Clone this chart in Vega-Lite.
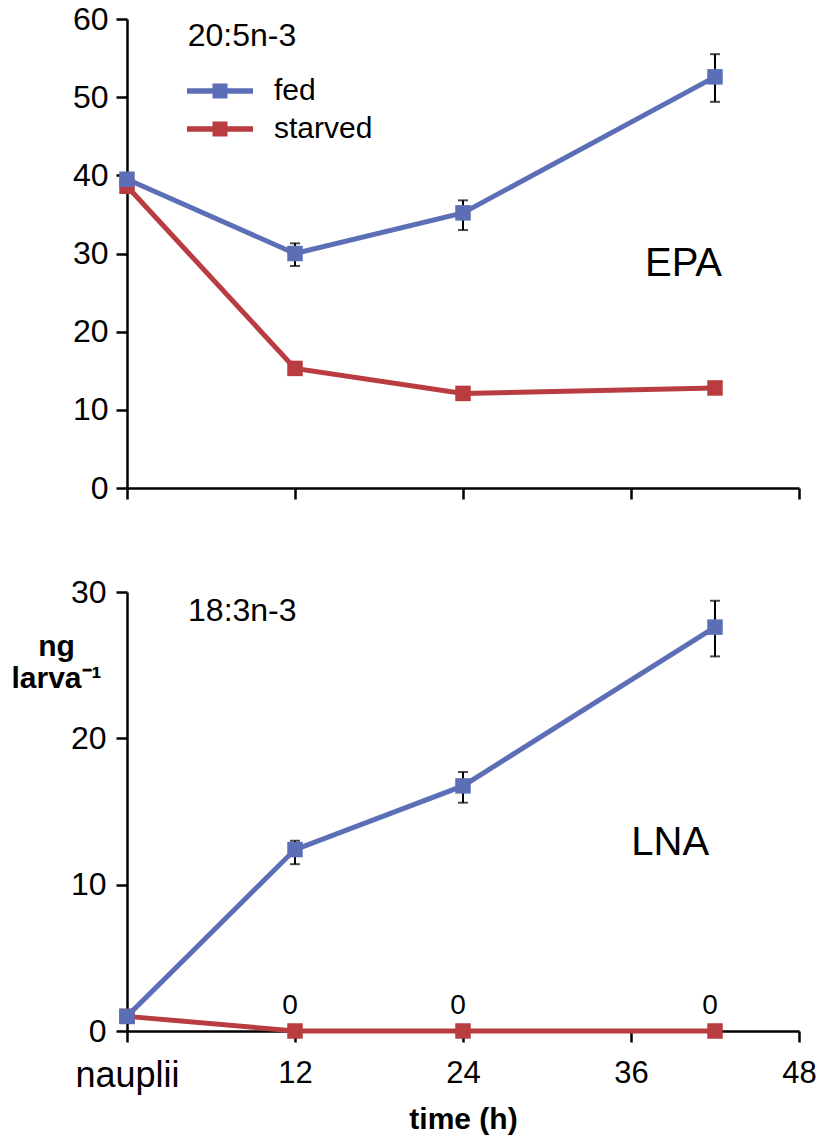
{
  "$schema": "https://vega.github.io/schema/vega-lite/v6.json",
  "background": "white",
  "padding": {"left": 10, "top": 3, "right": 5, "bottom": 5},
  "config": {
    "font": "Liberation Sans",
    "view": {"stroke": null},
    "axis": {
      "domainColor": "black", "domainWidth": 2.5, "tickColor": "black", "tickWidth": 2.5, "tickSize": 11,
      "labelFontSize": 31, "labelColor": "black", "labelFont": "Liberation Sans", "grid": false,
      "titleColor": "black", "labelFlush": false, "labelOverlap": false, "labelBound": false
    },
    "legend": {
      "orient": "none", "legendX": 78, "legendY": 57, "title": null, "padding": 0,
      "symbolType": "M-2.2,-0.18L2.2,-0.18L2.2,0.18L-2.2,0.18Z M-0.5,-0.5L0.5,-0.5L0.5,0.5L-0.5,0.5Z",
      "symbolSize": 900, "symbolStrokeWidth": 0, "symbolOpacity": 1,
      "labelFontSize": 30, "labelFont": "Liberation Sans", "labelColor": "black", "labelOffset": 39, "rowPadding": 8
    }
  },
  "datasets": {
    "epa": [
      {"group": "starved", "t": 0, "v": 38.6},
      {"group": "starved", "t": 12, "v": 15.3},
      {"group": "starved", "t": 24, "v": 12.1},
      {"group": "starved", "t": 42, "v": 12.8},
      {"group": "fed", "t": 0, "v": 39.5},
      {"group": "fed", "t": 12, "v": 30.0},
      {"group": "fed", "t": 24, "v": 35.2},
      {"group": "fed", "t": 42, "v": 52.6}
    ],
    "epa_err": [
      {"group": "fed", "t": 12, "lo": 28.4, "hi": 31.3},
      {"group": "fed", "t": 24, "lo": 33.0, "hi": 36.8},
      {"group": "fed", "t": 42, "lo": 49.4, "hi": 55.5}
    ],
    "lna": [
      {"group": "starved", "t": 0, "v": 1.0},
      {"group": "starved", "t": 12, "v": 0},
      {"group": "starved", "t": 24, "v": 0},
      {"group": "starved", "t": 42, "v": 0},
      {"group": "fed", "t": 0, "v": 1.0},
      {"group": "fed", "t": 12, "v": 12.4},
      {"group": "fed", "t": 24, "v": 16.75},
      {"group": "fed", "t": 42, "v": 27.6}
    ],
    "lna_err": [
      {"group": "fed", "t": 12, "lo": 11.4, "hi": 13.0},
      {"group": "fed", "t": 24, "lo": 15.6, "hi": 17.7},
      {"group": "fed", "t": 42, "lo": 25.6, "hi": 29.4}
    ],
    "zeros": [
      {"t": 12, "v": 0, "label": "0"},
      {"t": 24, "v": 0, "label": "0"},
      {"t": 42, "v": 0, "label": "0"}
    ],
    "notes_top": [
      {"label": "20:5n-3", "t": 4.34, "v": 56.5},
      {"label": "EPA", "t": 39.75, "v": 27.1}
    ],
    "notes_bottom": [
      {"label": "18:3n-3", "t": 4.36, "v": 28.0},
      {"label": "LNA", "t": 38.8, "v": 12.0}
    ]
  },
  "bounds": "flush",
  "spacing": 104,
  "resolve": {"scale": {"color": "independent"}, "legend": {"color": "independent"}},
  "vconcat": [
    {
      "width": 672,
      "height": 469,
      "encoding": {
        "x": {
          "field": "t", "type": "quantitative",
          "scale": {"domain": [0, 48], "nice": false, "zero": false},
          "axis": {"values": [0, 12, 24, 36, 48], "labels": false, "title": null}
        },
        "y": {
          "field": "v", "type": "quantitative", "title": null,
          "scale": {"domain": [0, 60], "nice": false},
          "axis": {"values": [0, 10, 20, 30, 40, 50, 60], "labelPadding": 8, "labelFontSize": 32, "title": null}
        }
      },
      "layer": [
        {
          "data": {"name": "epa"},
          "mark": {"type": "line", "strokeWidth": 5},
          "encoding": {
            "color": {
              "field": "group", "type": "nominal",
              "scale": {"domain": ["fed", "starved"], "range": ["#5c6fb6", "#b93d40"]},
              "legend": {}
            }
          }
        },
        {
          "data": {"name": "epa_err"},
          "mark": {"type": "errorbar", "color": "black", "thickness": 2, "ticks": {"size": 10, "thickness": 2, "color": "black"}},
          "encoding": {
            "y": {"field": "lo", "type": "quantitative", "title": null, "scale": {"domain": [0, 60], "nice": false}},
            "y2": {"field": "hi"}
          }
        },
        {
          "data": {"name": "epa"},
          "mark": {"type": "point", "shape": "square", "filled": true, "size": 240, "opacity": 1},
          "encoding": {
            "color": {
              "field": "group", "type": "nominal",
              "scale": {"domain": ["fed", "starved"], "range": ["#5c6fb6", "#b93d40"]},
              "legend": {}
            }
          }
        },
        {
          "data": {"name": "notes_top"},
          "transform": [{"filter": "datum.label == '20:5n-3'"}],
          "mark": {"type": "text", "fontSize": 32, "align": "left", "baseline": "alphabetic", "color": "black"},
          "encoding": {"text": {"field": "label"}}
        },
        {
          "data": {"name": "notes_top"},
          "transform": [{"filter": "datum.label == 'EPA'"}],
          "mark": {"type": "text", "fontSize": 40, "align": "center", "baseline": "alphabetic", "color": "black"},
          "encoding": {"text": {"field": "label"}}
        }
      ]
    },
    {
      "width": 672,
      "height": 439,
      "encoding": {
        "x": {
          "field": "t", "type": "quantitative",
          "scale": {"domain": [0, 48], "nice": false, "zero": false},
          "axis": {
            "values": [0, 12, 24, 36, 48],
            "labelExpr": "datum.value == 0 ? 'nauplii' : datum.label",
            "labelPadding": 16,
            "labelFontSize": {"condition": {"test": "datum.value == 0", "value": 36}, "value": 31},
            "title": "time (h)", "titleFontSize": 30, "titleFontWeight": "bold",
            "titleX": 336, "titleY": 97, "titleBaseline": "alphabetic", "titleAlign": "center"
          }
        },
        "y": {
          "field": "v", "type": "quantitative",
          "scale": {"domain": [0, 30], "nice": false},
          "axis": {
            "values": [0, 10, 20, 30], "labelPadding": 10, "labelFontSize": 32,
            "title": ["ng", "larva⁻¹"], "titleAngle": 0, "titleAlign": "center", "titleBaseline": "alphabetic",
            "titleX": -71, "titleY": 63, "titleFontSize": 30, "titleFontWeight": "bold", "titleLineHeight": 32
          }
        }
      },
      "layer": [
        {
          "data": {"name": "lna"},
          "mark": {"type": "line", "strokeWidth": 5},
          "encoding": {
            "color": {
              "field": "group", "type": "nominal",
              "scale": {"domain": ["fed", "starved"], "range": ["#5c6fb6", "#b93d40"]},
              "legend": null
            }
          }
        },
        {
          "data": {"name": "lna_err"},
          "mark": {"type": "errorbar", "color": "black", "thickness": 2, "ticks": {"size": 10, "thickness": 2, "color": "black"}},
          "encoding": {
            "y": {"field": "lo", "type": "quantitative", "title": ["ng", "larva⁻¹"], "scale": {"domain": [0, 30], "nice": false}},
            "y2": {"field": "hi"}
          }
        },
        {
          "data": {"name": "lna"},
          "mark": {"type": "point", "shape": "square", "filled": true, "size": 240, "opacity": 1},
          "encoding": {
            "color": {
              "field": "group", "type": "nominal",
              "scale": {"domain": ["fed", "starved"], "range": ["#5c6fb6", "#b93d40"]},
              "legend": null
            }
          }
        },
        {
          "data": {"name": "zeros"},
          "mark": {"type": "text", "fontSize": 28, "align": "center", "baseline": "alphabetic", "dy": -17, "dx": -5, "color": "black"},
          "encoding": {"text": {"field": "label"}}
        },
        {
          "data": {"name": "notes_bottom"},
          "transform": [{"filter": "datum.label == '18:3n-3'"}],
          "mark": {"type": "text", "fontSize": 32, "align": "left", "baseline": "alphabetic", "color": "black"},
          "encoding": {"text": {"field": "label"}}
        },
        {
          "data": {"name": "notes_bottom"},
          "transform": [{"filter": "datum.label == 'LNA'"}],
          "mark": {"type": "text", "fontSize": 40, "align": "center", "baseline": "alphabetic", "color": "black"},
          "encoding": {"text": {"field": "label"}}
        }
      ]
    }
  ]
}
